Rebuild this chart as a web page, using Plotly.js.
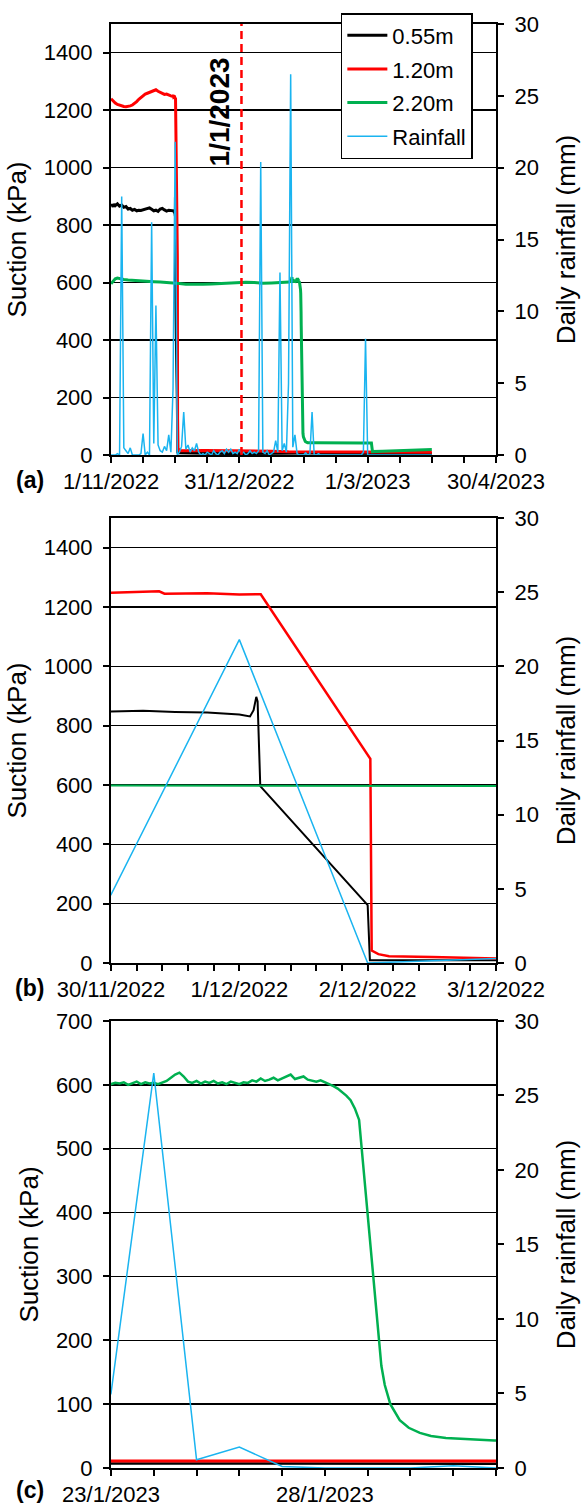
<!DOCTYPE html>
<html><head><meta charset="utf-8">
<script src="https://cdn.plot.ly/plotly-3.0.1.min.js"></script>
<style>html,body{margin:0;padding:0;background:#fff}</style>
</head><body>
<div id="chart" style="width:585px;height:1506px"></div>
<script>
// ---------------- DATA ----------------
const seriesNames = ['0.55m', '1.20m', '2.20m', 'Rainfall'];
const seriesColors = ['#000000', '#ff0000', '#00b050', '#1ab4f0'];

// Suction at 0.55 m (kPa)
const t055 = ['2022-11-01 00:00','2022-11-01 12:00','2022-11-02 00:00','2022-11-02 12:00','2022-11-03','2022-11-04','2022-11-05','2022-11-06','2022-11-07','2022-11-08',
  '2022-11-09','2022-11-10','2022-11-11','2022-11-12','2022-11-13','2022-11-14','2022-11-15','2022-11-16','2022-11-17','2022-11-18',
  '2022-11-19','2022-11-20','2022-11-21','2022-11-22','2022-11-23','2022-11-24','2022-11-25','2022-11-26','2022-11-27','2022-11-28',
  '2022-11-29','2022-11-30 00:00','2022-11-30 06:00','2022-11-30 12:00','2022-11-30 18:00','2022-12-01 00:00','2022-12-01 02:00','2022-12-01 02:40','2022-12-01 03:10','2022-12-01 03:25',
  '2022-12-01 03:55','2022-12-02 00:00','2022-12-02 00:25','2022-12-02 06:00','2022-12-02 12:00','2022-12-03 00:00','2022-12-15','2023-01-01','2023-01-15','2023-01-23',
  '2023-01-26','2023-01-29','2023-02-01','2023-02-15','2023-03-01','2023-03-15','2023-03-31'];
const v055 = [866,872,864,873,868,874,866,870,862,865,
  856,858,852,855,850,852,851,853,855,858,
  860,855,850,852,848,856,858,853,849,852,
  850,848,850,846,844,838,831,852,897,882,
  596,195,9,9,8,8,6,5,6,7,
  7,7,7,6,6,5,5];

// Suction at 1.20 m (kPa)
const t120 = ['2022-11-01','2022-11-02','2022-11-03','2022-11-04','2022-11-05','2022-11-06','2022-11-07','2022-11-08','2022-11-09','2022-11-10',
  '2022-11-11','2022-11-12','2022-11-13','2022-11-14','2022-11-15','2022-11-16','2022-11-17','2022-11-18','2022-11-19','2022-11-20',
  '2022-11-21','2022-11-22','2022-11-23','2022-11-24','2022-11-25','2022-11-26','2022-11-27','2022-11-28','2022-11-29','2022-11-30 00:00',
  '2022-11-30 06:00','2022-11-30 09:00','2022-11-30 10:00','2022-11-30 18:00','2022-12-01 00:00','2022-12-01 04:00','2022-12-02 00:30','2022-12-02 00:45','2022-12-02 02:00','2022-12-02 04:00',
  '2022-12-02 12:00','2022-12-02 20:00','2022-12-03 00:00','2022-12-15','2023-01-01','2023-01-15','2023-01-23','2023-02-01','2023-02-15','2023-03-01',
  '2023-03-15','2023-03-31'];
const v120 = [1240,1232,1225,1220,1217,1215,1213,1212,1213,1215,
  1218,1223,1230,1238,1245,1251,1256,1259,1262,1265,
  1268,1271,1266,1262,1258,1255,1256,1252,1250,1248,
  1252,1253,1245,1246,1242,1243,688,42,30,23,
  20,17,15,16,15,13,11,11,12,12,
  11,10];

// Suction at 2.20 m (kPa)
const t220 = ['2022-11-01','2022-11-02','2022-11-03','2022-11-04','2022-11-05','2022-11-07','2022-11-09','2022-11-12','2022-11-15','2022-11-18',
  '2022-11-21','2022-11-24','2022-11-27','2022-11-30','2022-12-01','2022-12-02','2022-12-03','2022-12-06','2022-12-10','2022-12-14',
  '2022-12-18','2022-12-22','2022-12-26','2022-12-30','2023-01-03','2023-01-07','2023-01-11','2023-01-15','2023-01-19',
  '2023-01-23 00:00','2023-01-23 02:24','2023-01-23 04:48','2023-01-23 07:12','2023-01-23 09:36','2023-01-23 12:00','2023-01-23 14:24','2023-01-23 16:48','2023-01-23 19:12','2023-01-23 21:36',
  '2023-01-24 00:00','2023-01-24 02:24','2023-01-24 04:48','2023-01-24 07:12','2023-01-24 09:36','2023-01-24 12:00','2023-01-24 14:24','2023-01-24 16:48','2023-01-24 19:12','2023-01-24 21:36',
  '2023-01-25 00:00','2023-01-25 02:24','2023-01-25 04:48','2023-01-25 07:12','2023-01-25 09:36','2023-01-25 12:00','2023-01-25 14:24','2023-01-25 16:48','2023-01-25 19:12','2023-01-25 21:36',
  '2023-01-26 00:00','2023-01-26 02:24','2023-01-26 04:48','2023-01-26 07:12','2023-01-26 09:36','2023-01-26 12:00','2023-01-26 14:24','2023-01-26 16:48','2023-01-26 19:12','2023-01-26 21:36',
  '2023-01-27 00:00','2023-01-27 02:24','2023-01-27 04:48','2023-01-27 07:12','2023-01-27 09:36','2023-01-27 12:00','2023-01-27 14:24','2023-01-27 16:48','2023-01-27 19:12','2023-01-27 21:36',
  '2023-01-28 00:00','2023-01-28 02:24','2023-01-28 04:48','2023-01-28 07:12','2023-01-28 09:36','2023-01-28 12:00','2023-01-28 14:24','2023-01-28 16:48','2023-01-28 19:12','2023-01-28 20:38',
  '2023-01-28 22:19','2023-01-29 00:00','2023-01-29 01:26','2023-01-29 02:53','2023-01-29 04:34','2023-01-29 06:00','2023-01-29 07:41','2023-01-29 09:36','2023-01-29 12:43','2023-01-29 18:00',
  '2023-01-29 23:02','2023-01-30 05:17','2023-01-30 11:31','2023-01-30 19:55','2023-01-31 08:24','2023-01-31 23:02','2023-02-05','2023-02-12','2023-02-20','2023-02-27',
  '2023-03-02 18:00','2023-03-03 06:00','2023-03-08','2023-03-15','2023-03-22','2023-03-31'];
const v220 = [596,606,613,616,614,611,609,607,605,604,
  603,602,601,599,598,598,597,594,593,594,
  595,597,598,600,601,600,598,599,600,
  601,603,602,604,600,603,605,601,604,602,
  603,601,604,606,611,616,619,613,605,603,
  606,602,605,603,606,602,604,601,605,603,
  601,604,603,607,605,610,606,608,611,607,
  610,612,616,609,611,613,608,606,605,607,
  604,602,598,594,589,583,576,563,545,500,
  450,400,350,300,250,200,160,130,100,75,
  63,55,50,47,45,43,43,42,43,42,
  42,12,13,15,18,19];

// Daily rainfall (mm), one value per day from 1/11/2022
const rainStart = [2022, 10, 1];
const rainDaily = [
  0, 0, 0, 0.1, 0, 18.0, 0.5, 0.3, 0.1, 0.5,
  0, 0, 0, 0, 0.1, 1.5, 0, 0.2, 0, 16.2,
  0.8, 10.4, 0.7, 0.3, 0.2, 0.6, 0.3, 1.4, 0.2, 4.6,
  21.8, 0, 0.2, 0.6, 3.0, 0.4, 0.7, 0.2, 0.5, 0.3,
  0.8, 0.2, 0, 0.1, 0, 0.2, 0.1, 0, 0.3, 0.1,
  0, 0.2, 0.3, 0.1, 0.4, 0.2, 0.4, 0.1, 0.2, 0.1,
  0.4, 0.1, 0.2, 0, 0.1, 0.3, 0.1, 0.2, 0.1, 0.3,
  20.4, 0.2, 0.1, 0.3, 0, 0.1, 0.2, 1.0, 0.2, 12.7,
  0.3, 0.8, 0.2, 5.0, 26.5, 0.55, 1.4, 0.1, 0, 0,
  0, 0.15, 0, 0.1, 3.0, 0, 0, 0.1, 0, 0,
  0, 0, 0, 0, 0, 0, 0, 0, 0, 0,
  0, 0, 0, 0, 0, 0, 0, 0, 0.2, 8.1,
  0, 0, 0, 0, 0, 0, 0, 0, 0, 0,
  0, 0, 0, 0, 0, 0, 0, 0, 0, 0,
  0, 0, 0, 0, 0, 0, 0, 0, 0, 0,
  0];
const rainDates = rainDaily.map((_, i) => {
  const d = new Date(Date.UTC(rainStart[0], rainStart[1], rainStart[2] + i));
  return d.toISOString().slice(0, 10);
});

// Axis settings per panel
const panelXRange = [['2022-11-01', '2023-04-30'], ['2022-11-30', '2022-12-03'], ['2023-01-23', '2023-02-01']];
const panelXMajorDays = [60, 1, 5];
const panelXMinorDays = [15, 0.2, 1];
const panelYMax = [1500, 1500, 700];
const panelYStep = [200, 200, 100];
const rainRange = [0, 30];
const panelLabels = ['(a)', '(b)', '(c)'];
const markerDate = '2023-01-01';
const markerText = '1/1/2023';

// ---------------- STYLE ----------------
const FONT = '"Liberation Sans", Arial, sans-serif';
const DAY = 86400000;
const yDomains = [[0.7015, 1.0], [0.3497, 0.6579], [0, 0.3096]];
const lineWidths = [[3, 3, 3, 1.5], [2, 2.5, 2, 1.5], [2.5, 3, 2.5, 1.5]];
const labelY = [0.684, 0.3325, -0.0155];

const traces = [];
const suctionX = [t055, t120, t220];
const suctionY = [v055, v120, v220];
for (let p = 0; p < 3; p++) {
  const xa = p === 0 ? 'x' : 'x' + (p + 1);
  const yl = p === 0 ? 'y' : 'y' + (2 * p + 1);
  const yr = 'y' + (2 * p + 2);
  for (let s = 0; s < 3; s++) {
    traces.push({
      type: 'scatter', mode: 'lines', x: suctionX[s], y: suctionY[s],
      xaxis: xa, yaxis: yl, name: seriesNames[s], legendgroup: 'g' + s,
      showlegend: p === 0, line: {color: seriesColors[s], width: lineWidths[p][s]},
      hoverinfo: 'skip'
    });
  }
  traces.push({
    type: 'scatter', mode: 'lines', x: rainDates, y: rainDaily,
    xaxis: xa, yaxis: yr, name: seriesNames[3], legendgroup: 'g3',
    showlegend: p === 0, line: {color: seriesColors[3], width: lineWidths[p][3]},
    hoverinfo: 'skip'
  });
}

const tickFont = {family: FONT, size: 22, color: '#000'};
const titleFont = {family: FONT, size: 26, color: '#000'};
const axisBase = {
  showline: true, linecolor: '#000', linewidth: 2, ticks: 'outside', ticklen: 6,
  tickwidth: 2, tickcolor: '#000', tickfont: tickFont, zeroline: false, fixedrange: true
};

const layout = {
  width: 585, height: 1506, autosize: false,
  margin: {l: 111, r: 89, t: 24, b: 38, pad: 0},
  paper_bgcolor: '#fff', plot_bgcolor: '#fff',
  font: {family: FONT, color: '#000'},
  showlegend: true,
  legend: {
    x: 0.597, y: 1.0076, xanchor: 'left', yanchor: 'top',
    bgcolor: '#fff', bordercolor: '#000', borderwidth: 1.5,
    font: {family: FONT, size: 22, color: '#000'},
    traceorder: 'grouped', tracegroupgap: 2, itemwidth: 40
  },
  shapes: [{
    type: 'line', xref: 'x', yref: 'y domain', x0: markerDate, x1: markerDate, y0: 0, y1: 1,
    line: {color: '#ff0000', width: 2.5, dash: '8px,5px'}, layer: 'above'
  }],
  annotations: [{
    text: markerText, xref: 'x', yref: 'y domain', x: markerDate, y: 0.796, xshift: -22,
    xanchor: 'center', yanchor: 'middle',
    textangle: -90, showarrow: false, font: {family: FONT, size: 28, color: '#000', weight: 'bold'}
  }]
};

for (let p = 0; p < 3; p++) {
  const xk = p === 0 ? 'xaxis' : 'xaxis' + (p + 1);
  const ylk = p === 0 ? 'yaxis' : 'yaxis' + (2 * p + 1);
  const yrk = 'yaxis' + (2 * p + 2);
  const ylName = p === 0 ? 'y' : 'y' + (2 * p + 1);
  const xName = p === 0 ? 'x' : 'x' + (p + 1);
  layout[xk] = Object.assign({}, axisBase, {
    type: 'date', domain: [0, 1], anchor: ylName, range: panelXRange[p],
    tick0: panelXRange[p][0], dtick: panelXMajorDays[p] * DAY, tickformat: '%-d/%-m/%Y',
    showgrid: false, mirror: true,
    minor: {tick0: panelXRange[p][0], dtick: panelXMinorDays[p] * DAY, ticks: 'outside', ticklen: 6, tickwidth: 2, tickcolor: '#000', showgrid: false}
  });
  layout[ylk] = Object.assign({}, axisBase, {
    domain: yDomains[p], anchor: xName, range: [0, panelYMax[p]], dtick: panelYStep[p], tick0: 0,
    showgrid: true, gridcolor: '#000', gridwidth: 1.5, ticklabelstandoff: 6,
    title: {text: 'Suction (kPa)', font: titleFont, standoff: 10}
  });
  layout[yrk] = Object.assign({}, axisBase, {
    overlaying: ylName, side: 'right', anchor: xName, range: rainRange, dtick: 5, tick0: 0,
    showgrid: false, ticklabelstandoff: 6,
    title: {text: 'Daily rainfall (mm)', font: titleFont, standoff: 19}
  });
  layout.annotations.push({
    text: panelLabels[p], xref: 'paper', yref: 'paper', x: -0.2104, y: labelY[p],
    xanchor: 'center', yanchor: 'middle',
    showarrow: false, font: {family: FONT, size: 23, color: '#000', weight: 'bold'}
  });
}

Plotly.newPlot('chart', traces, layout, {staticPlot: true, displayModeBar: false});
</script>
</body></html>
